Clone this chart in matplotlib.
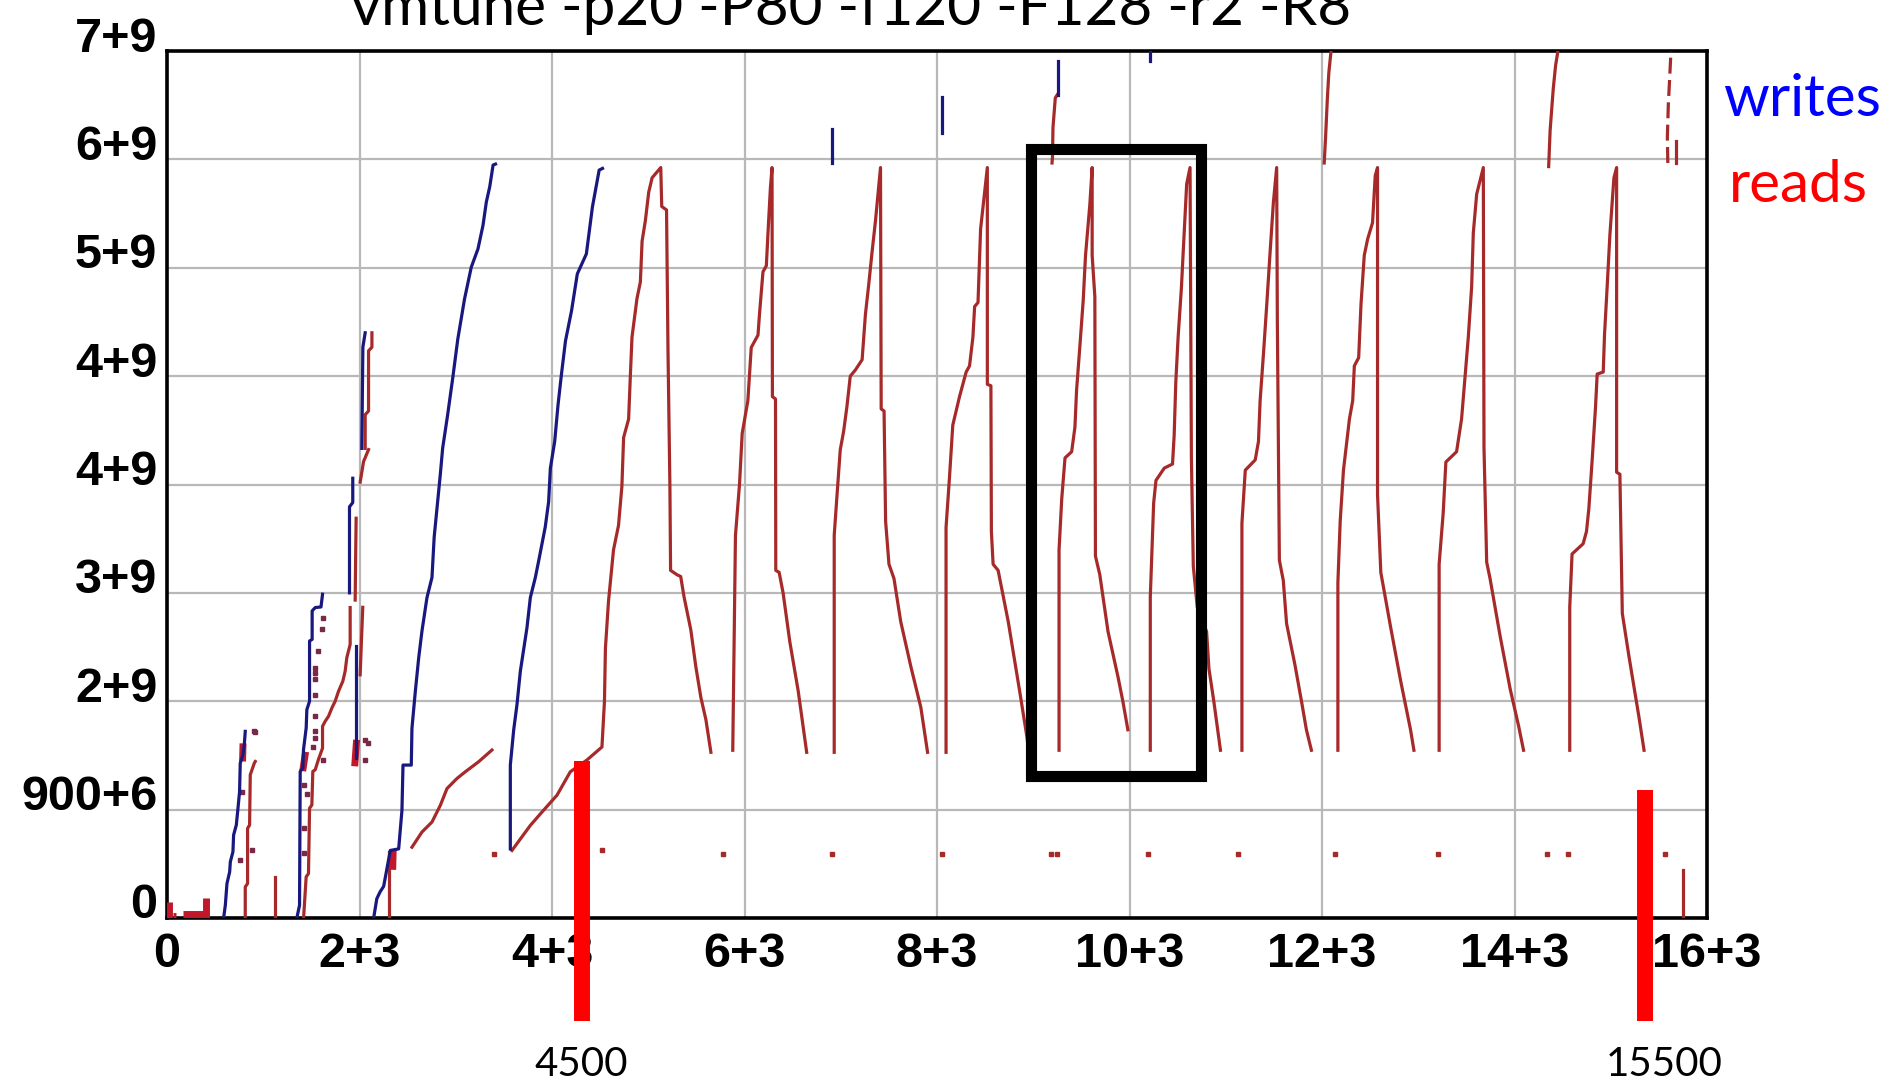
import matplotlib
matplotlib.use("Agg")
import matplotlib.pyplot as plt
from matplotlib.transforms import ScaledTranslation
from matplotlib.patches import Rectangle

# ---------------- axis ticks ----------------
x_ticks = [0, 2000, 4000, 6000, 8000, 10000, 12000, 14000, 16000]
x_tick_labels = ["0", "2+3", "4+3", "6+3", "8+3", "10+3", "12+3", "14+3", "16+3"]
y_ticks = [0.0, 0.9, 1.8, 2.7, 3.6, 4.5, 5.4, 6.3, 7.2]          # units of 1e9
y_tick_labels = ["0", "900+6", "2+9", "3+9", "4+9", "4+9", "5+9", "6+9", "7+9"]

title_text = "vmtune -p20 -P80 -f120 -F128 -r2 -R8"

# ---------------- reads (red) : big sawtooth cycles ----------------
read1_x = [3584, 3775, 3896, 4052, 4190, 4363, 4519, 4545, 4555, 4587, 4639, 4691, 4726, 4744, 4796, 4813, 4831, 4883, 4918, 4936, 4970, 5005, 5040, 5130, 5140, 5190, 5205, 5225, 5232, 5300, 5337, 5372, 5442, 5494, 5546, 5599, 5651]
read1_y = [0.561, 0.769, 0.880, 1.020, 1.214, 1.312, 1.420, 1.800, 2.240, 2.630, 3.057, 3.260, 3.583, 3.990, 4.143, 4.483, 4.823, 5.145, 5.281, 5.621, 5.791, 6.028, 6.147, 6.232, 5.909, 5.880, 4.721, 3.583, 2.887, 2.850, 2.836, 2.666, 2.394, 2.089, 1.834, 1.647, 1.376]

read2_x = [5878, 5906, 5948, 5976, 6035, 6070, 6140, 6157, 6192, 6227, 6244, 6269, 6286, 6290, 6322, 6325, 6360, 6401, 6471, 6558, 6646]
read2_y = [1.393, 3.176, 3.600, 4.025, 4.296, 4.738, 4.840, 5.027, 5.366, 5.417, 5.689, 6.062, 6.232, 4.330, 4.310, 2.887, 2.870, 2.700, 2.293, 1.885, 1.376]

read3_x = [6932, 6932, 6960, 6995, 7030, 7064, 7099, 7152, 7222, 7256, 7291, 7326, 7361, 7413, 7420, 7450, 7466, 7501, 7553, 7623, 7728, 7832, 7902]
read3_y = [1.376, 3.176, 3.498, 3.889, 4.042, 4.246, 4.500, 4.551, 4.636, 5.010, 5.264, 5.536, 5.791, 6.232, 4.228, 4.210, 3.295, 2.938, 2.819, 2.462, 2.089, 1.749, 1.376]

read4_x = [8094, 8094, 8129, 8164, 8234, 8303, 8338, 8373, 8391, 8426, 8453, 8523, 8523, 8560, 8565, 8583, 8635, 8740, 8862, 8935, 8950]
read4_y = [1.376, 3.244, 3.651, 4.093, 4.330, 4.534, 4.585, 4.823, 5.078, 5.111, 5.723, 6.232, 4.432, 4.420, 3.210, 2.938, 2.887, 2.462, 1.868, 1.500, 1.390]

read5_x = [9268, 9268, 9296, 9330, 9399, 9433, 9450, 9485, 9519, 9543, 9588, 9612, 9612, 9640, 9646, 9691, 9777, 9880, 9931, 9983]
read5_y = [1.393, 3.057, 3.481, 3.821, 3.872, 4.076, 4.381, 4.755, 5.128, 5.502, 5.926, 6.232, 5.502, 5.160, 3.006, 2.853, 2.378, 2.004, 1.800, 1.563]

read6_x = [10216, 10216, 10251, 10275, 10361, 10447, 10464, 10481, 10505, 10539, 10567, 10594, 10629, 10643, 10663, 10704, 10801, 10825, 10876, 10945]
read6_y = [1.393, 2.666, 3.447, 3.634, 3.736, 3.770, 4.008, 4.449, 4.823, 5.230, 5.672, 6.096, 6.232, 3.821, 2.921, 2.581, 2.378, 2.072, 1.800, 1.393]

read7_x = [11168, 11168, 11203, 11306, 11340, 11357, 11392, 11426, 11460, 11495, 11529, 11536, 11557, 11598, 11632, 11718, 11787, 11838, 11890]
read7_y = [1.393, 3.278, 3.719, 3.804, 3.957, 4.296, 4.687, 5.094, 5.519, 5.943, 6.232, 4.959, 2.972, 2.802, 2.445, 2.106, 1.800, 1.563, 1.393]

read8_x = [12165, 12165, 12189, 12223, 12285, 12319, 12336, 12381, 12405, 12439, 12474, 12525, 12553, 12577, 12577, 12611, 12714, 12817, 12920, 12955]
read8_y = [1.393, 2.785, 3.295, 3.719, 4.144, 4.296, 4.585, 4.653, 5.094, 5.502, 5.638, 5.774, 6.164, 6.232, 3.515, 2.870, 2.411, 1.970, 1.563, 1.393]

read9_x = [13217, 13217, 13259, 13287, 13398, 13450, 13485, 13520, 13555, 13572, 13607, 13676, 13683, 13711, 13746, 13850, 13955, 14042, 14094]
read9_y = [1.393, 2.938, 3.362, 3.787, 3.872, 4.144, 4.483, 4.823, 5.247, 5.689, 6.011, 6.232, 3.906, 2.955, 2.819, 2.344, 1.902, 1.597, 1.393]

read10_x = [14574, 14574, 14598, 14713, 14748, 14772, 14807, 14842, 14859, 14922, 14935, 14963, 14991, 15033, 15061, 15061, 15095, 15120, 15189, 15259, 15294, 15346]
read10_y = [1.393, 2.581, 3.023, 3.108, 3.210, 3.396, 3.804, 4.246, 4.517, 4.534, 4.840, 5.247, 5.672, 6.147, 6.232, 3.702, 3.685, 2.530, 2.174, 1.834, 1.664, 1.393]

# ---------------- reads (red) : early part ----------------
read_a_x = [813, 813, 837, 837, 858, 865, 907, 917]
read_a_y = [0.0, 0.258, 0.286, 0.744, 0.772, 1.189, 1.286, 1.300]

read_b_x = [1419, 1446, 1470, 1481, 1505, 1515, 1540, 1575, 1616, 1616, 1643, 1678, 1713, 1747, 1782, 1827, 1851, 1868, 1903, 1903]
read_b_y = [0.0, 0.342, 0.369, 0.911, 0.939, 1.217, 1.231, 1.320, 1.411, 1.592, 1.633, 1.675, 1.744, 1.800, 1.883, 1.967, 2.050, 2.161, 2.272, 2.578]

read_c1_x = [2007, 2020, 2034]
read_c1_y = [2.02, 2.30, 2.58]
read_c2_x = [1955, 1960, 1965]
read_c2_y = [2.64, 3.00, 3.32]
read_c3_x = [2007, 2042, 2094]
read_c3_y = [3.62, 3.79, 3.89]
read_c4_x = [2059, 2059, 2094, 2094, 2129, 2129]
read_c4_y = [3.90, 4.18, 4.21, 4.71, 4.74, 4.86]

read_d_x = [2311, 2311]
read_d_y = [0.0, 0.55]

read_e_x = [2545, 2649, 2753, 2840, 2909, 3013, 3099, 3238, 3376]
read_e_y = [0.588, 0.714, 0.797, 0.936, 1.075, 1.159, 1.214, 1.298, 1.395]

read_f_x = [1124, 1124]
read_f_y = [0.0, 0.34]

read_g_x = [15749, 15749]
read_g_y = [0.0, 0.40]

# dense blobs (drawn thicker)
blob_segments_x = [[20, 20], [60, 90], [170, 410], [400, 400], [785, 790], [1410, 1440], [1950, 1970], [2345, 2350]]
blob_segments_y = [[0.0, 0.13], [0.02, 0.02], [0.03, 0.03], [0.0, 0.17], [1.30, 1.45], [1.22, 1.38], [1.26, 1.48], [0.40, 0.57]]

# ---------------- reads (red) : upper band ----------------
read_top1_x = [9195, 9200, 9205, 9229, 9248]
read_top1_y = [6.27, 6.32, 6.565, 6.81, 6.835]
read_top2_x = [12023, 12037, 12056, 12071, 12094]
read_top2_y = [6.27, 6.48, 6.81, 7.02, 7.20]
read_top3_x = [14355, 14370, 14403, 14427, 14451]
read_top3_y = [6.24, 6.54, 6.89, 7.08, 7.20]
read_top4_x = [15593, 15588, 15598, 15626]
read_top4_y = [6.27, 6.48, 6.75, 7.20]
read_top5_x = [15680, 15680]
read_top5_y = [6.27, 6.45]

# isolated read dots
dot_x = [3394, 4515, 5774, 6906, 8050, 9180, 9243, 10189, 11132, 12138, 13208, 14340, 14554, 15560]
dot_y = [0.533, 0.561, 0.533, 0.533, 0.533, 0.533, 0.533, 0.533, 0.533, 0.533, 0.533, 0.533, 0.533, 0.533]
dot2_x = [761, 779, 882, 900, 917, 1419, 1419, 1419, 1453, 1515, 1540, 1540, 1540, 1540, 1540, 1540, 1540, 1574, 1609, 1616, 1616, 2059, 2087, 2059]
dot2_y = [0.481, 1.050, 0.564, 1.550, 1.545, 0.536, 0.744, 1.106, 1.028, 1.417, 1.495, 1.550, 1.675, 1.856, 1.981, 2.036, 2.078, 2.217, 2.397, 2.495, 1.314, 1.480, 1.453, 1.314]

# ---------------- writes (blue) ----------------
write1_x = [588, 606, 623, 651, 658, 685, 692, 720, 734, 754, 761, 789, 803, 813]
write1_y = [0.0, 0.106, 0.286, 0.383, 0.467, 0.550, 0.689, 0.772, 0.883, 1.050, 1.286, 1.355, 1.439, 1.550]

write2_x = [1349, 1377, 1384, 1411, 1418, 1446, 1453, 1481, 1481, 1508, 1508, 1540, 1600, 1616]
write2_y = [0.0, 0.106, 1.217, 1.244, 1.397, 1.578, 1.730, 1.800, 2.300, 2.314, 2.550, 2.578, 2.583, 2.689]

write3a_x = [1965, 1965]
write3a_y = [1.33, 2.26]
write3b_x = [1896, 1896, 1930, 1930]
write3b_y = [2.70, 3.415, 3.45, 3.652]
write3c_x = [2024, 2035, 2059]
write3c_y = [3.90, 4.74, 4.86]

write4_x = [2147, 2163, 2180, 2214, 2251, 2320, 2407, 2441, 2452, 2538, 2545, 2580, 2615, 2649, 2701, 2753, 2770, 2776, 2839, 2864, 2916, 2969, 3021, 3091, 3161, 3231, 3283, 3318, 3353, 3388, 3413]
write4_y = [0.0, 0.078, 0.161, 0.217, 0.263, 0.561, 0.574, 0.894, 1.270, 1.270, 1.576, 1.882, 2.160, 2.383, 2.661, 2.828, 3.078, 3.165, 3.679, 3.902, 4.180, 4.486, 4.806, 5.140, 5.404, 5.557, 5.752, 5.947, 6.072, 6.253, 6.261]

write5_x = [3567, 3567, 3602, 3636, 3671, 3740, 3775, 3827, 3870, 3930, 3965, 3983, 4028, 4063, 4098, 4140, 4203, 4263, 4357, 4420, 4490, 4525]
write5_y = [0.574, 1.270, 1.562, 1.771, 2.049, 2.411, 2.661, 2.828, 3.000, 3.248, 3.457, 3.735, 3.958, 4.264, 4.514, 4.792, 5.043, 5.349, 5.515, 5.905, 6.211, 6.225]

write_top_x = [[6906, 6906], [8050, 8050], [9262, 9262], [10214, 10214]]
write_top_y = [[6.27, 6.55], [6.52, 6.82], [6.835, 7.12], [7.12, 7.20]]

# ---------------- annotations ----------------
marker_x = [4308, 15359]
marker_top = [1.307, 1.066]
marker_bottom = -0.855
marker_labels = ["4500", "15500"]
marker_label_x = [4308, 15554]
box_x = [8981, 10742]
box_y = [1.177, 6.386]

READ_C = "#a62a2a"
WRITE_C = "#18187f"
LW = 2.3

fig = plt.figure(figsize=(18.98, 10.91), dpi=100)
ax = fig.add_axes([167 / 1898, 173 / 1091, 1540 / 1898, 867 / 1091])
ax.set_xlim(0, 16000)
ax.set_ylim(0, 7.2)

ax.set_xticks(x_ticks)
ax.set_xticklabels(x_tick_labels)
ax.set_yticks(y_ticks)
ax.set_yticklabels(y_tick_labels)
ax.grid(True, color="#b8b8b8", lw=1.6)
ax.set_axisbelow(True)
ax.tick_params(length=0, labelsize=35)
ax.tick_params(axis="x", pad=10)
ax.tick_params(axis="y", pad=7)
for lab in ax.get_xticklabels() + ax.get_yticklabels():
    lab.set_fontfamily("Liberation Sans")
    lab.set_fontweight("bold")
off = ScaledTranslation(0, 17 / 100, fig.dpi_scale_trans)
for lab in ax.get_yticklabels():
    lab.set_transform(lab.get_transform() + off)
for sp in ax.spines.values():
    sp.set_linewidth(2.6)
    sp.set_color("black")

reads = [(read1_x, read1_y), (read2_x, read2_y), (read3_x, read3_y), (read4_x, read4_y),
         (read5_x, read5_y), (read6_x, read6_y), (read7_x, read7_y), (read8_x, read8_y),
         (read9_x, read9_y), (read10_x, read10_y), (read_a_x, read_a_y), (read_b_x, read_b_y),
         (read_c1_x, read_c1_y), (read_c2_x, read_c2_y), (read_c3_x, read_c3_y), (read_c4_x, read_c4_y),
         (read_d_x, read_d_y), (read_e_x, read_e_y), (read_f_x, read_f_y), (read_g_x, read_g_y),
         (read_top1_x, read_top1_y), (read_top2_x, read_top2_y), (read_top3_x, read_top3_y),
         (read_top5_x, read_top5_y)]
for xs, ys in reads:
    ax.plot(xs, ys, color=READ_C, lw=LW, zorder=3)
ax.plot(read_top4_x, read_top4_y, color=READ_C, lw=LW, ls=(0, (5, 2)), zorder=3)

for xs, ys in zip(blob_segments_x, blob_segments_y):
    ax.plot(xs, ys, color="#c0182a", lw=5, solid_capstyle="butt", zorder=3)

ax.plot(dot_x, dot_y, ls="none", marker="s", ms=3, color=READ_C, zorder=3)
ax.plot(dot2_x, dot2_y, ls="none", marker="s", ms=3, color="#7a2848", zorder=3)

writes = [(write1_x, write1_y), (write2_x, write2_y), (write3a_x, write3a_y), (write3b_x, write3b_y),
          (write3c_x, write3c_y), (write4_x, write4_y), (write5_x, write5_y)]
writes += list(zip(write_top_x, write_top_y))
for xs, ys in writes:
    ax.plot(xs, ys, color=WRITE_C, lw=LW, zorder=4)

# highlight box
ax.add_patch(Rectangle((box_x[0], box_y[0]), box_x[1] - box_x[0], box_y[1] - box_y[0],
                       fill=False, ec="black", lw=8, joinstyle="miter", zorder=6))

# red markers with labels below the axis
for mx, mt, ml, lx in zip(marker_x, marker_top, marker_labels, marker_label_x):
    ax.plot([mx, mx], [mt, marker_bottom], color="#ff0000", lw=11.5,
            solid_capstyle="butt", clip_on=False, zorder=7)
    ax.text(lx, -1.22, ml, ha="center", va="center", fontsize=29,
            family="Lato", color="black", clip_on=False)

fig.text(851 / 1898, 1 - 25 / 1091, title_text, ha="center", va="baseline",
         fontsize=42, family="Lato", color="black")
fig.text(1723 / 1898, 1 - 116 / 1091, "writes", ha="left", va="baseline",
         fontsize=42, family="Lato", color="#0000ff")
fig.text(1729 / 1898, 1 - 202 / 1091, "reads", ha="left", va="baseline",
         fontsize=42, family="Lato", color="#ff0000")

fig.savefig("out.png", dpi=100)
